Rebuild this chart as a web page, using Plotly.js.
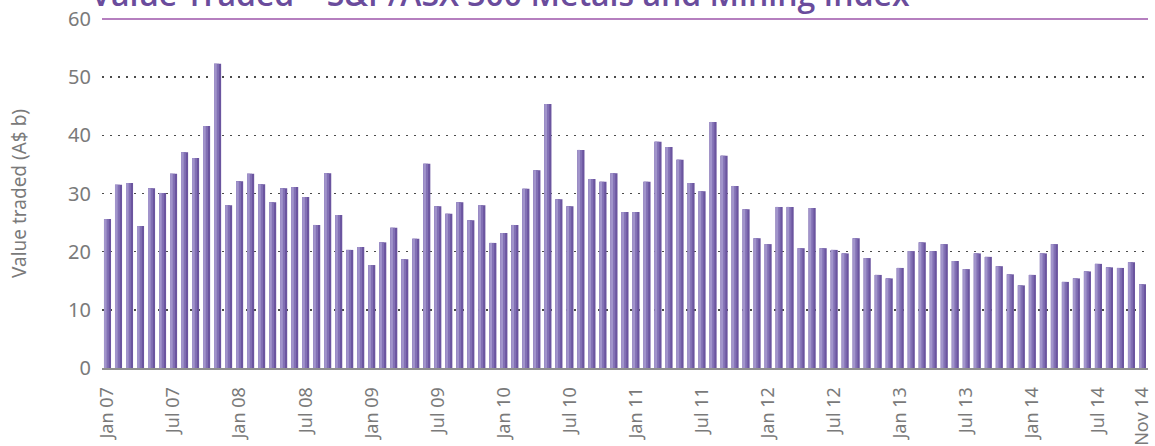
<!DOCTYPE html>
<html>
<head>
<meta charset="utf-8">
<script src="https://cdn.plot.ly/plotly-3.0.1.min.js"></script>
<style>
  html, body { margin: 0; padding: 0; background: #fff; }
  #chart { width: 1155px; height: 446px; }
</style>
</head>
<body>
<div id="chart"></div>
<script>
// ---- Data (monthly value traded, A$ billions) ----
const monthNames = ["Jan","Feb","Mar","Apr","May","Jun","Jul","Aug","Sep","Oct","Nov","Dec"];
const startYear = 7, endYear = 14, endMonth = 10; // Jan 07 .. Nov 14

const valueTraded = [
  25.6,31.5,31.8,24.4,30.9,30.1,33.4,37.1,36.1,41.6,52.3,28.0,
  32.1,33.4,31.6,28.5,30.9,31.1,29.4,24.6,33.5,26.3,20.3,20.8,
  17.7,21.6,24.1,18.7,22.2,35.1,27.8,26.5,28.5,25.4,28.0,21.5,
  23.2,24.6,30.8,34.0,45.4,29.0,27.8,37.5,32.5,32.0,33.5,26.8,
  26.8,32.0,38.9,38.0,35.8,31.8,30.4,42.3,36.5,31.3,27.3,22.3,
  21.3,27.7,27.7,20.6,27.5,20.6,20.3,19.7,22.3,18.9,16.0,15.4,
  17.2,20.1,21.6,20.1,21.3,18.4,17.0,19.7,19.1,17.5,16.1,14.2,
  16.0,19.7,21.3,14.8,15.4,16.6,17.9,17.3,17.2,18.2,14.4
];

const tickLabels = ["Jan 07","Jul 07","Jan 08","Jul 08","Jan 09","Jul 09","Jan 10","Jul 10",
  "Jan 11","Jul 11","Jan 12","Jul 12","Jan 13","Jul 13","Jan 14","Jul 14","Nov 14"];

const yTicks = [0,10,20,30,40,50,60];

const titleText = "Value Traded – S&amp;P/ASX 300 Metals and Mining Index";
const yTitleText = "Value traded (A$ b)";

// category labels
const months = [];
for (let y = startYear; y <= endYear; y++) {
  for (let m = 0; m < 12; m++) {
    if (y === endYear && m > endMonth) break;
    months.push(monthNames[m] + " " + String(y).padStart(2, "0"));
  }
}

// bars drawn as three overlaid layers to imitate the left-light / right-dark shading
const barBase = {type: "bar", x: months, y: valueTraded, hoverinfo: "x+y", showlegend: false};
const traces = [
  Object.assign({}, barBase, {width: 0.64, offset: -0.32, marker: {color: "#6b559f", line: {width: 0}}}),
  Object.assign({}, barBase, {width: 0.44, offset: -0.32, marker: {color: "#8270b4", line: {width: 0}}}),
  Object.assign({}, barBase, {width: 0.24, offset: -0.32, marker: {color: "#a194cb", line: {width: 0}}})
];

const layout = {
  width: 1155, height: 446,
  margin: {l: 102, r: 7, t: 19, b: 78, pad: 0},
  paper_bgcolor: "#ffffff", plot_bgcolor: "#ffffff",
  barmode: "overlay",
  font: {family: "Noto Sans, Open Sans, sans-serif", color: "#7a7a7a"},
  xaxis: {
    type: "category",
    range: [-0.5, months.length - 0.5],
    tickmode: "array", tickvals: tickLabels, ticktext: tickLabels,
    tickangle: -90,
    tickfont: {size: 18, color: "#7a7a7a"},
    ticks: "", ticklabelstandoff: 10,
    showgrid: false, zeroline: false,
    showline: true, linecolor: "#8f8f8f", linewidth: 2
  },
  yaxis: {
    range: [0, 60],
    tickmode: "array", tickvals: yTicks,
    tickfont: {size: 20, color: "#7a7a7a"},
    ticks: "", ticklabelstandoff: 10,
    showgrid: true, gridcolor: "#4a4a4a", gridwidth: 1.5, griddash: "1.5px,6.5px",
    zeroline: false, showline: false,
    title: {text: yTitleText, font: {size: 19, color: "#7a7a7a"}, standoff: 36}
  },
  shapes: [
    {type: "line", xref: "paper", yref: "paper", x0: 0, x1: 1, y0: 1, y1: 1,
     line: {color: "#b57fbf", width: 2}}
  ],
  annotations: [
    {text: titleText, xref: "paper", yref: "paper", x: -0.012, y: 1.006,
     xanchor: "left", yanchor: "bottom", showarrow: false,
     font: {family: "Open Sans, sans-serif", size: 32, color: "#6a4c9c", weight: 600}}
  ]
};

Plotly.newPlot("chart", traces, layout, {displayModeBar: false, staticPlot: true});
</script>
</body>
</html>
